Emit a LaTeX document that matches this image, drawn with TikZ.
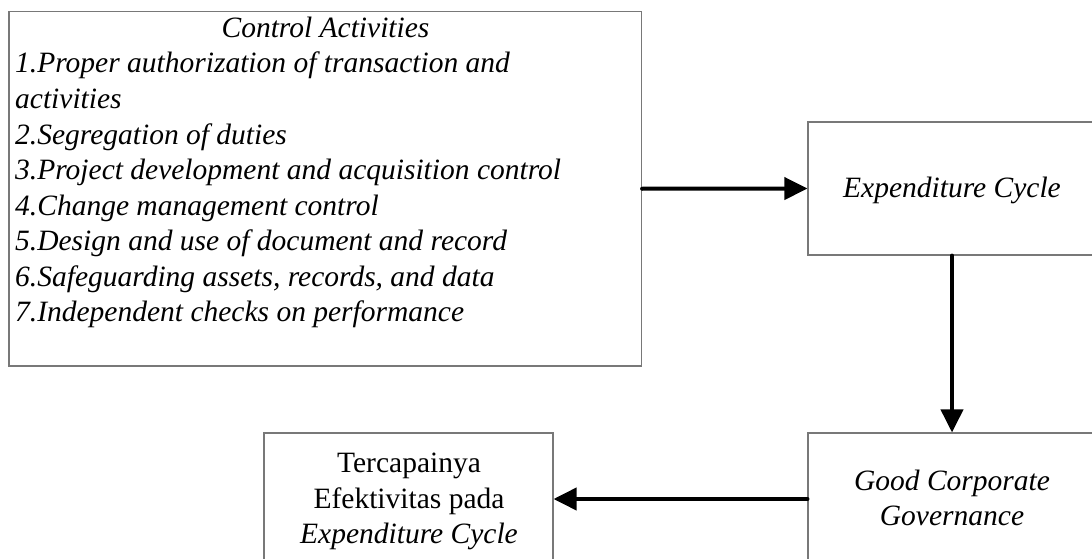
\documentclass[tikz,border=0pt]{standalone}
\usepackage{fontspec}
\setmainfont{Liberation Serif}
\usetikzlibrary{arrows.meta}
\definecolor{boxgray}{RGB}{120,120,120}
\tikzset{
  box/.style={draw=boxgray, line width=1.1pt, rectangle, inner sep=0pt},
  txt/.style={inner sep=0pt, font=\fontsize{29.5}{35.5}\selectfont},
  arr/.style={line width=4pt, line cap=round, -{Triangle[length=23pt,width=22pt]}, shorten >=0pt}
}
\begin{document}
\begin{tikzpicture}[x=1pt,y=-1pt]
\useasboundingbox (0,0) rectangle (1092,559);
\clip (0,0) rectangle (1092,559);
% boxes
\node[box, minimum width=632.5pt, minimum height=354.5pt] (ca) at (325.25,188.75) {};
\node[box, minimum width=288pt, minimum height=133pt] (ec) at (952,188.5) {};
\node[box, minimum width=288pt, minimum height=132pt] (gcg) at (952,499) {};
\node[box, minimum width=289pt, minimum height=132pt] (ter) at (408.5,499) {};
% texts of control activities
\node[txt, anchor=base] (catitle) at (325.5,38) {\itshape Control Activities};
\foreach \t [count=\i] in {
  {1.Proper authorization of transaction and},
  {activities},
  {2.Segregation of duties},
  {3.Project development and acquisition control},
  {4.Change management control},
  {5.Design and use of document and record},
  {6.Safeguarding assets, records, and data},
  {7.Independent checks on performance}}
  \node[txt, anchor=base west] (l\i) at (15,{37.5+35.5*\i}) {\itshape\t};
% other texts
\node[txt, anchor=base] (ect) at (952,197) {\itshape Expenditure Cycle};
\node[txt, anchor=base] (g1) at (952,490) {\itshape Good Corporate};
\node[txt, anchor=base] (g2) at (952,525) {\itshape Governance};
\node[txt, anchor=base] (t1) at (409,472) {Tercapainya};
\node[txt, anchor=base] (t2) at (409,508) {Efektivitas pada};
\node[txt, anchor=base] (t3) at (409,543) {\itshape Expenditure Cycle};
% arrows
\draw[arr] (ca.east) -- (ec.west);
\draw[arr] (ec.south) -- (gcg.north);
\draw[arr] (gcg.west) -- (ter.east);
\end{tikzpicture}
\end{document}
